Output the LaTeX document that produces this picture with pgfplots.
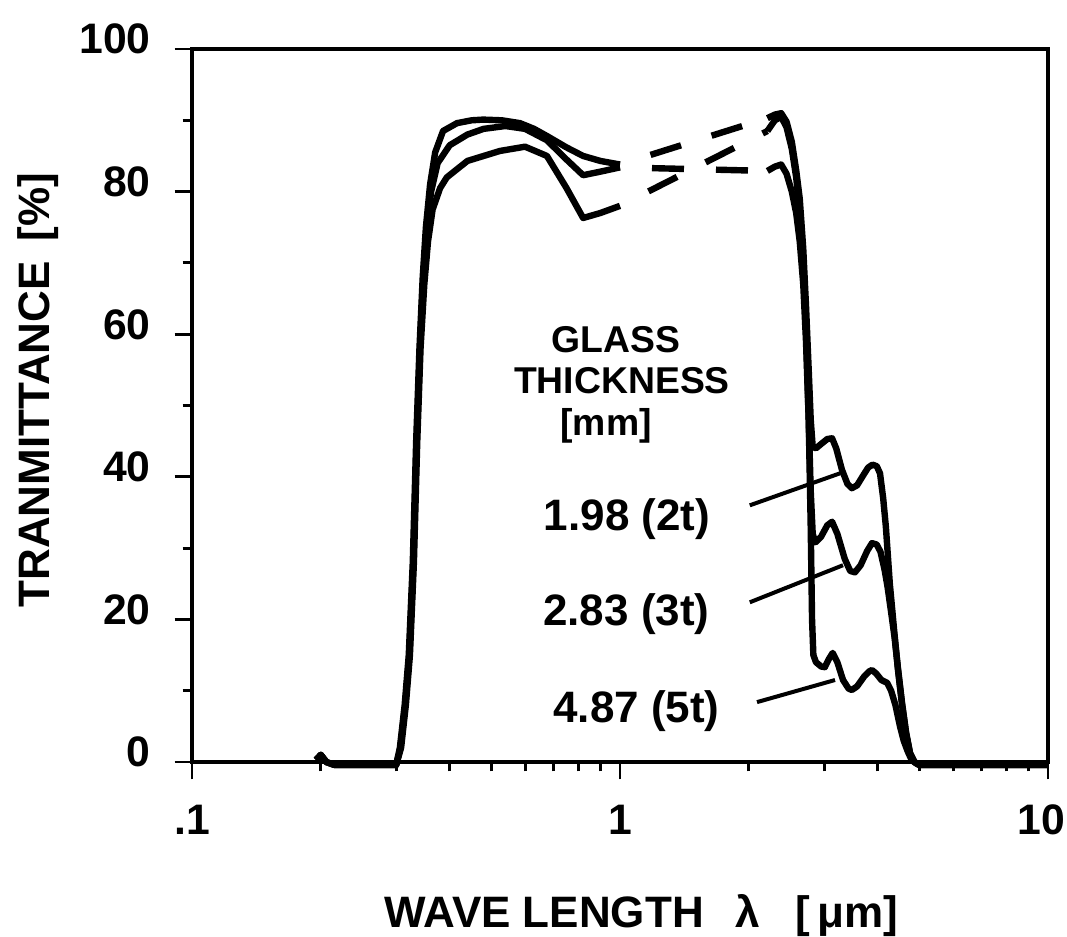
\documentclass[border=0pt]{standalone}
\usepackage{fontspec}
\setmainfont{Liberation Sans}
\usepackage{pgfplots}
\pgfplotsset{compat=1.18}

\begin{document}
\begin{tikzpicture}
\path[use as bounding box] (0,0) rectangle (400.125pt,-351pt);
\begin{axis}[
  at={(72pt,-285.75pt)}, anchor=south west,
  scale only axis, width=321pt, height=267.375pt,
  xmode=log, xmin=0.1, xmax=10, ymin=0, ymax=100,
  xtick={0.1,1,10}, xticklabels={.1,1,{\hspace*{-5pt}10}},
  minor xtick={0.2,0.3,0.4,0.5,0.6,0.7,0.8,0.9,2,3,4,5,6,7,8,9},
  ytick={0,20,...,100}, minor ytick={10,30,...,90},
  tick pos=left, tick align=outside,
  major tick length=6.5pt, minor tick length=3.5pt,
  tick style={black, line width=1.1pt},
  axis line style={line width=1.3pt},
  /pgf/number format/assume math mode=true,
  tick label style={font=\bfseries\fontsize{16}{18}\selectfont},
  yticklabel style={xshift=-5.5pt, yshift=3.7pt},
  xticklabel style={yshift=-6pt},
  xlabel={WAVE LENGTH\hspace{0.72em}λ\hspace{0.8em}[\,μm]},
  ylabel={TRANMITTANCE\hspace{0.45em}[\%]},
  label style={font=\bfseries\fontsize{16.5}{18}\selectfont},
  xlabel style={at={(axis description cs:0.2138,0)}, anchor=base west, yshift=-61.9pt},
  ylabel style={at={(axis description cs:-0.1659,0.2034)}, anchor=base west},
  clip=false,
  cycle list={{black, solid}},
  every axis plot/.append style={black, line width=2.4pt, line join=round, no markers},
]
% 1.98 mm (2t): visible part
\addplot coordinates {(0.195,0.3)(0.2,1)(0.206,0)(0.215,-0.4)(0.30,-0.4)(0.306,2)(0.314,8)
  (0.321,15)(0.328,28)(0.334,45)(0.340,58)(0.346,68)(0.352,75)(0.36,81)(0.37,85.5)
  (0.386,88.5)(0.416,89.6)(0.45,90)(0.479,90.1)(0.53,90)(0.584,89.6)(0.63,88.8)
  (0.675,87.8)(0.75,86.2)(0.82,85)(0.9,84.3)(1.0,83.8)};
\addplot[dash pattern=on 12pt off 12pt, dash phase=12pt] coordinates {(1.0,83.8)(2.21,90.3)};
\addplot coordinates {(2.21,90.3)(2.3,90.8)(2.38,91)(2.45,89.8)(2.52,87)(2.58,83)(2.63,79)
  (2.68,72)(2.72,64)(2.76,55)(2.79,48)(2.82,44.2)(2.87,44)(2.95,44.6)(3.05,45.3)(3.13,45.4)
  (3.2,44)(3.3,41)(3.4,39)(3.48,38.4)(3.58,38.8)(3.7,40.2)(3.8,41.3)(3.89,41.7)(3.98,41.5)
  (4.05,40.5)(4.12,37)(4.18,33)(4.27,25)(4.37,18.5)(4.46,13)(4.56,8)(4.66,4)(4.76,1.2)
  (4.87,0)(5.0,-0.4)(10,-0.4)};
% 2.83 mm (3t)
\addplot coordinates {(0.195,0.3)(0.2,1)(0.206,0)(0.215,-0.4)(0.30,-0.4)(0.307,2)(0.315,8)
  (0.322,15)(0.329,28)(0.335,45)(0.341,58)(0.347,68)(0.354,75)(0.362,80)(0.375,84)
  (0.40,86.5)(0.44,88)(0.48,88.8)(0.54,89.2)(0.6,88.8)(0.675,87.2)(0.75,84.5)(0.82,82.3)
  (0.9,82.8)(1.0,83.4)};
\addplot[dash pattern=on 12pt off 12pt, dash phase=12pt] coordinates {(1.0,83.4)(2.21,82.9)};
\addplot coordinates {(2.21,82.9)(2.3,83.5)(2.38,83.8)(2.45,82.5)(2.52,80)(2.58,77)(2.63,73)
  (2.68,67)(2.72,59)(2.76,48)(2.79,38)(2.82,32)(2.86,30.8)(2.95,31.6)(3.05,33.2)(3.13,33.7)
  (3.22,32)(3.35,28.5)(3.45,26.8)(3.54,26.6)(3.65,27.6)(3.78,29.6)(3.88,30.7)(3.98,30.5)
  (4.06,29.5)(4.15,27)(4.22,24.5)(4.3,21)(4.38,17.5)(4.46,13.2)(4.56,8.3)(4.66,4.2)
  (4.76,1.3)(4.88,0)(5.0,-0.4)(10,-0.4)};
% 4.87 mm (5t)
\addplot coordinates {(0.195,0.3)(0.2,1)(0.206,0)(0.215,-0.4)(0.30,-0.4)(0.308,2)(0.316,8)
  (0.323,15)(0.330,28)(0.336,45)(0.342,58)(0.349,67)(0.356,73)(0.365,77.5)(0.38,80.5)
  (0.394,82)(0.44,84.3)(0.524,85.7)(0.60,86.3)(0.675,85)(0.75,80.5)(0.82,76.3)(0.9,77)
  (1.0,78)};
\addplot[dash pattern=on 12pt off 12pt, dash phase=12pt] coordinates {(1.0,78)(2.21,88.5)};
\addplot coordinates {(2.21,88.5)(2.3,90)(2.38,90.5)(2.45,89)(2.52,86)(2.58,82)(2.63,77)
  (2.68,70)(2.72,61)(2.76,48)(2.79,33)(2.81,20)(2.83,15)(2.87,14)(2.95,13.4)(3.01,13.3)
  (3.08,14.5)(3.14,15.3)(3.22,14)(3.32,11.5)(3.42,10.3)(3.48,10.1)(3.58,10.6)(3.72,12)
  (3.82,12.7)(3.88,12.9)(3.97,12.4)(4.08,11.5)(4.21,11.1)(4.3,10)(4.4,8)(4.51,5)(4.6,3)
  (4.7,1.5)(4.8,0.3)(4.92,-0.2)(5.0,-0.4)(10,-0.4)};
% leader lines
\addplot[line width=1.5pt] coordinates {(2.01,36.0)(3.27,40.5)};
\addplot[line width=1.5pt] coordinates {(2.01,22.4)(3.32,27.6)};
\addplot[line width=1.5pt] coordinates {(2.09,8.4)(3.18,11.5)};
% annotation
\node[font=\bfseries\fontsize{14}{16}\selectfont, anchor=base] at (axis cs:0.9787,57.5) {GLASS};
\node[font=\bfseries\fontsize{14}{16}\selectfont, anchor=base] at (axis cs:1.0108,51.75) {THICKNESS};
\node[font=\bfseries\fontsize{14}{16}\selectfont, anchor=base] at (axis cs:0.9275,45.86) {[mm]};
\node[font=\bfseries\fontsize{16.5}{18}\selectfont, anchor=base] at (axis cs:1.0385,32.54) {1.98 (2t)};
\node[font=\bfseries\fontsize{16.5}{18}\selectfont, anchor=base] at (axis cs:1.035,19.21) {2.83 (3t)};
\node[font=\bfseries\fontsize{16.5}{18}\selectfont, anchor=base] at (axis cs:1.093,5.61) {4.87 (5t)};
\end{axis}
\end{tikzpicture}
\end{document}
